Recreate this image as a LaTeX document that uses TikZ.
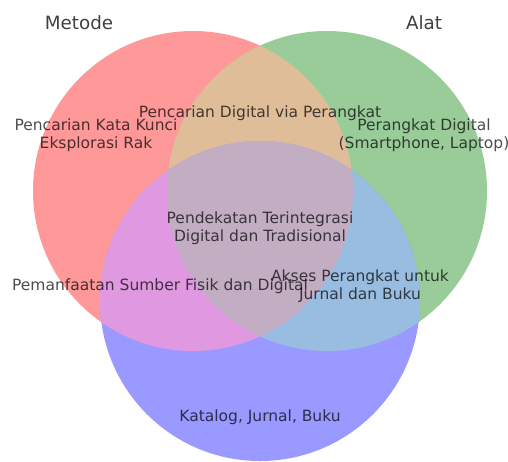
\documentclass[tikz,border=0pt]{standalone}
\usepackage{fontspec}
\setmainfont{DejaVu Sans}
\definecolor{cR}{RGB}{255,153,153}
\definecolor{cG}{RGB}{153,204,153}
\definecolor{cB}{RGB}{153,153,255}
\definecolor{cRG}{RGB}{224,189,153}
\definecolor{cRB}{RGB}{224,153,224}
\definecolor{cGB}{RGB}{153,189,224}
\definecolor{cRGB}{RGB}{194,173,194}
\tikzset{
  setlabel/.style={text=black, text opacity=0.75, font=\fontsize{18.3}{22}\selectfont, inner sep=0pt},
  regionlabel/.style={text=black, text opacity=0.7, font=\fontsize{15.5}{18}\selectfont, align=center, inner sep=0pt},
}
\begin{document}
\begin{tikzpicture}[x=1pt,y=-1pt]
\useasboundingbox (0,0) rectangle (508,461);
\coordinate (cr) at (193,191);
\coordinate (cg) at (327,191);
\coordinate (cb) at (260,301);
\def\rad{160}
% single circles
\fill[cR] (cr) circle[radius=\rad];
\fill[cG] (cg) circle[radius=\rad];
\fill[cB] (cb) circle[radius=\rad];
% pairwise
\begin{scope}
  \clip (cr) circle[radius=\rad];
  \fill[cRG] (cg) circle[radius=\rad];
  \fill[cRB] (cb) circle[radius=\rad];
\end{scope}
\begin{scope}
  \clip (cg) circle[radius=\rad];
  \fill[cGB] (cb) circle[radius=\rad];
\end{scope}
% triple
\begin{scope}
  \clip (cr) circle[radius=\rad];
  \clip (cg) circle[radius=\rad];
  \fill[cRGB] (cb) circle[radius=\rad];
\end{scope}
% set labels
\node[setlabel] (lm) at (79,23) {Metode};
\node[setlabel] (la) at (424,23) {Alat};
% region labels
\node[regionlabel] (r100) at (96,135) {Pencarian Kata Kunci\\Eksplorasi Rak};
\node[regionlabel] (r010) at (424,135) {Perangkat Digital\\(Smartphone, Laptop)};
\node[regionlabel] (r110) at (260,113) {Pencarian Digital via Perangkat};
\node[regionlabel] (r111) at (260,228) {Pendekatan Terintegrasi\\Digital dan Tradisional};
\node[regionlabel] (r101) at (160,286) {Pemanfaatan Sumber Fisik dan Digital};
\node[regionlabel] (r011) at (360,286) {Akses Perangkat untuk\\Jurnal dan Buku};
\node[regionlabel] (r001) at (260,417) {Katalog, Jurnal, Buku};
\end{tikzpicture}
\end{document}
